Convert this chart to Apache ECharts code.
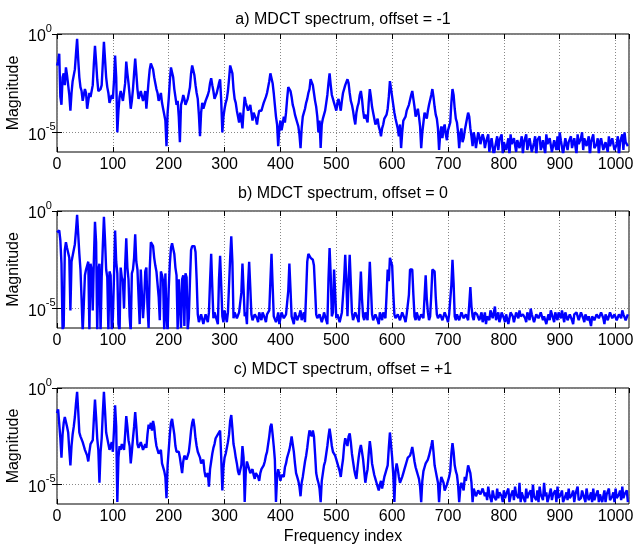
<!DOCTYPE html>
<html><head><meta charset="utf-8">
<script src="https://cdn.jsdelivr.net/npm/echarts@6/dist/echarts.min.js"></script>
<style>html,body{margin:0;padding:0;background:#fff}#c{width:634px;height:546px}</style>
</head><body><div id="c"></div>
<script>
// Values were read at every 2nd frequency bin: "even" arrays hold bins 0,4,8,...
// "odd" arrays hold bins 2,6,10,...  (values are log10 of the magnitude)
const STEP = 4;
const titles = ['a) MDCT spectrum, offset = -1', 'b) MDCT spectrum, offset = 0', 'c) MDCT spectrum, offset = +1'];
const yTickValues = [1e-5, 1];
const xName = 'Frequency index';
const yName = 'Magnitude';

const logMagOffsetMinus1Even = [
-1.6,-1.0,-3.6,-2.0,-1.7,-2.2,-3.9,-2.4,-1.8,-0.25,-2.2,-2.9,-3.1,-3.0,-3.7,-3.2,
-2.6,-0.6,-2.3,-3.0,-2.6,-0.4,-2.2,-3.0,-3.4,-3.3,-1.1,-5.0,-3.2,-3.0,-3.3,-1.4,
-2.5,-3.8,-2.8,-1.25,-2.8,-3.1,-3.0,-3.2,-3.8,-2.4,-1.5,-1.8,-2.5,-3.0,-3.2,-3.5,
-3.9,-5.7,-3.3,-1.7,-2.2,-3.2,-3.4,-5.5,-3.4,-3.3,-3.5,-3.2,-2.0,-1.5,-2.6,-3.3,
-5.2,-3.5,-3.6,-3.3,-2.9,-2.25,-2.9,-3.2,-2.9,-2.3,-5.0,-3.8,-3.3,-2.3,-1.5,-2.8,
-3.5,-4.2,-4.0,-4.8,-3.2,-3.6,-3.8,-4.0,-4.0,-4.3,-4.2,-4.0,-3.7,-3.4,-3.0,-2.4,
-2.0,-3.0,-4.2,-5.7,-4.4,-4.6,-4.5,-3.3,-2.7,-3.2,-3.8,-4.3,-4.7,-5.8,-4.2,-3.8,
-3.3,-2.8,-2.3,-3.0,-3.7,-5.0,-5.8,-4.3,-3.9,-3.1,-2.0,-3.1,-3.5,-3.9,-3.3,-3.9,
-3.0,-2.6,-2.3,-3.0,-3.6,-4.3,-4.0,-3.5,-2.9,-3.9,-4.1,-4.5,-2.8,-3.7,-4.3,-4.5,
-4.7,-5.2,-4.6,-4.4,-3.8,-2.4,-3.2,-4.0,-4.4,-5.2,-5.8,-4.4,-4.2,-3.9,-3.5,-2.9,
-3.7,-4.0,-4.2,-5.8,-4.5,-4.1,-3.9,-3.5,-2.8,-3.7,-4.3,-5.9,-4.7,-4.8,-5.1,-4.9,
-4.5,-2.8,-3.8,-4.5,-5.8,-4.8,-5.3,-4.6,-4.0,-4.8,-5.7,-5.3,-5.4,-5.2,-5.7,-5.3,
-5.5,-5.1,-5.6,-5.3,-5.8,-5.2,-5.4,-5.1,-5.5,-5.9,-5.3,-5.1,-5.6,-5.2,-5.4,-5.8,
-5.2,-5.5,-5.1,-5.6,-5.3,-6.1,-5.2,-5.4,-5.2,-5.7,-5.3,-5.1,-5.6,-5.4,-5.9,-5.3,
-5.2,-5.0,-5.4,-5.7,-5.3,-5.5,-5.2,-5.8,-5.4,-5.1,-5.6,-5.0,-5.3,-5.7,-5.2,-5.5,
-5.1,-5.9,-5.3,-5.5,-5.2,-5.7,-5.4,-5.2,-5.6,-5.3,-5.8,-5.2,-5.5,-5.1,-5.0,-5.6
];
const logMagOffsetMinus1Odd = [
-1.4,-3.2,-2.2,-2.6,-2.1,-3.1,-3.0,-2.3,-1.0,-1.3,-2.7,-3.4,-2.8,-3.8,-3.0,-3.1,
-1.5,-1.4,-2.9,-2.8,-1.5,-1.3,-2.7,-3.5,-3.1,-2.4,-2.2,-3.9,-2.9,-3.4,-2.5,-2.0,
-3.1,-3.4,-2.0,-2.0,-3.3,-2.9,-3.4,-2.9,-3.1,-1.8,-1.6,-2.2,-2.8,-3.4,-3.0,-3.8,
-4.4,-4.0,-2.4,-1.7,-2.8,-3.6,-4.2,-3.6,-3.1,-3.6,-3.3,-2.7,-1.6,-2.1,-3.0,-4.1,
-4.0,-3.8,-3.4,-3.1,-2.5,-2.6,-3.3,-3.0,-2.5,-3.4,-4.2,-3.5,-2.9,-1.6,-2.0,-3.3,
-3.9,-4.5,-4.3,-3.9,-3.5,-3.9,-3.6,-4.4,-4.1,-4.6,-3.9,-3.9,-3.5,-3.2,-2.7,-2.0,
-2.5,-3.6,-4.6,-4.8,-4.9,-4.2,-4.0,-2.7,-2.9,-3.6,-4.1,-4.5,-5.1,-4.8,-4.0,-3.5,
-3.0,-2.3,-2.6,-3.4,-4.2,-4.4,-4.6,-4.1,-3.5,-2.5,-2.6,-3.3,-3.7,-3.5,-3.6,-3.4,
-2.8,-2.7,-2.5,-3.4,-3.9,-4.6,-3.7,-3.1,-3.3,-4.3,-4.0,-3.5,-3.2,-4.0,-4.6,-4.3,
-4.9,-4.8,-4.3,-4.1,-3.2,-2.4,-3.6,-4.3,-4.8,-4.6,-5.0,-4.5,-3.9,-3.6,-3.1,-3.3,
-4.2,-3.8,-4.7,-5.0,-4.0,-4.3,-3.6,-3.1,-3.2,-4.1,-4.8,-5.1,-5.3,-4.6,-5.4,-4.7,
-3.5,-3.1,-4.3,-5.0,-5.1,-5.5,-4.9,-4.3,-4.2,-5.2,-5.0,-5.8,-5.0,-5.6,-5.1,-5.8,
-5.4,-6.0,-5.3,-6.2,-5.5,-5.9,-5.3,-6.1,-5.4,-5.8,-6.2,-5.6,-5.3,-6.0,-5.4,-5.9,
-6.1,-5.4,-5.9,-5.3,-6.0,-5.5,-6.2,-5.3,-5.9,-5.4,-6.1,-5.6,-5.3,-6.0,-5.4,-5.9,
-5.9,-5.4,-6.1,-5.3,-5.9,-5.4,-5.8,-5.3,-6.1,-5.6,-5.3,-5.9,-5.2,-5.7,-6.2,-5.4,
-5.8,-5.6,-6.1,-5.3,-5.9,-5.5,-6.0,-5.7,-5.3,-5.9,-5.6,-6.2,-5.4,-5.9,-5.5,-5.7
];
const logMagOffset0Even = [
-1.1,-1.0,-2.7,-5.9,-1.6,-1.9,-5.1,-2.3,-1.7,-0.2,-2.2,-4.5,-6.2,-3.0,-2.6,-2.7,
-5.1,-0.55,-6.2,-2.7,-3.4,-0.3,-3.0,-6.2,-3.3,-5.5,-1.0,-3.2,-6.2,-3.4,-5.0,-1.4,
-3.5,-6.2,-3.0,-1.2,-3.0,-5.8,-2.9,-4.6,-2.9,-6.0,-1.6,-1.8,-2.8,-3.2,-5.6,-3.3,
-6.2,-5.3,-4.0,-1.9,-1.7,-2.9,-6.1,-3.4,-3.5,-5.9,-3.4,-5.5,-2.0,-1.75,-2.1,-5.3,
-5.6,-5.2,-5.7,-5.4,-5.2,-2.2,-5.5,-5.3,-5.8,-2.3,-5.4,-5.1,-5.7,-5.3,-1.3,-5.5,
-5.2,-5.6,-5.3,-2.7,-5.4,-5.8,-2.6,-5.3,-5.5,-5.2,-5.7,-5.4,-5.2,-5.5,-5.3,-5.1,
-2.2,-5.4,-5.7,-5.2,-5.5,-5.3,-5.6,-5.2,-2.7,-5.4,-5.8,-5.3,-5.5,-5.1,-5.4,-5.7,
-2.6,-2.1,-2.5,-2.8,-5.3,-5.6,-5.2,-5.5,-5.3,-5.8,-1.9,-5.4,-3.0,-5.5,-5.2,-5.6,
-5.3,-2.25,-5.4,-2.25,-5.2,-5.5,-5.3,-5.7,-3.1,-5.4,-5.2,-5.6,-2.6,-5.3,-5.5,-5.2,
-5.8,-5.4,-5.2,-5.5,-3.0,-2.4,-2.8,-5.3,-5.6,-5.2,-5.5,-5.3,-5.7,-5.2,-3.0,-3.0,
-5.4,-5.2,-5.6,-5.3,-5.5,-3.3,-5.2,-5.4,-3.0,-3.1,-5.3,-5.6,-5.2,-5.5,-5.3,-5.7,
-5.2,-2.5,-5.4,-5.3,-5.6,-5.2,-5.5,-5.3,-5.6,-3.9,-5.4,-5.2,-5.3,-5.6,-5.2,-5.5,
-5.8,-5.3,-5.1,-5.5,-4.9,-5.4,-5.7,-5.2,-5.5,-5.3,-5.8,-5.2,-5.4,-5.6,-5.3,-5.1,
-5.5,-5.2,-5.7,-5.3,-5.0,-5.4,-5.6,-5.2,-5.5,-5.1,-5.4,-5.8,-5.3,-5.1,-5.5,-5.2,
-5.6,-5.3,-5.1,-5.7,-5.3,-5.5,-5.2,-5.8,-5.4,-5.2,-5.5,-5.3,-5.7,-5.2,-5.4,-5.9,
-5.3,-5.5,-5.2,-5.6,-5.3,-5.8,-5.2,-5.5,-5.3,-5.6,-5.2,-5.5,-5.3,-5.1,-5.4,-5.6
];
const logMagOffset0Odd = [
-1.2,-1.5,-6.1,-2.0,-1.9,-2.4,-2.6,-2.0,-1.0,-1.2,-3.0,-6.2,-3.3,-2.8,-6.1,-3.0,
-2.5,-1.6,-3.0,-6.2,-1.8,-1.5,-3.4,-3.1,-6.2,-3.4,-2.6,-5.8,-2.9,-3.6,-2.8,-2.9,
-5.4,-3.2,-2.4,-2.6,-3.1,-3.0,-5.5,-3.1,-4.9,-3.0,-1.7,-2.4,-3.1,-4.4,-3.1,-3.6,
-3.2,-6.2,-2.7,-1.65,-2.2,-3.3,-3.5,-6.0,-3.3,-3.2,-6.1,-3.6,-1.8,-1.8,-3.5,-5.7,
-5.3,-5.8,-5.3,-5.7,-3.6,-3.9,-5.2,-5.6,-3.5,-3.8,-5.7,-5.4,-5.2,-2.4,-2.6,-5.2,
-5.5,-5.2,-4.2,-4.0,-5.2,-3.8,-3.9,-5.6,-5.3,-5.5,-5.2,-5.6,-5.3,-5.7,-5.2,-3.6,
-3.8,-5.3,-5.5,-5.8,-5.2,-5.5,-5.3,-4.1,-4.0,-5.6,-5.2,-5.6,-5.3,-5.6,-5.2,-4.2,
-2.2,-2.4,-2.5,-4.0,-5.5,-5.3,-5.7,-5.2,-5.6,-3.5,-3.3,-5.2,-4.2,-5.3,-5.7,-5.2,
-3.5,-3.6,-3.6,-3.7,-5.6,-5.2,-5.5,-4.4,-4.5,-5.6,-5.3,-4.0,-3.9,-5.6,-5.3,-5.6,
-5.2,-5.6,-5.3,-4.3,-3.6,-2.4,-4.2,-5.5,-5.3,-5.6,-5.2,-5.5,-5.3,-4.3,-3.0,-4.3,
-5.6,-5.3,-5.5,-5.2,-4.4,-4.5,-5.6,-4.3,-3.1,-4.4,-5.5,-5.3,-5.6,-5.2,-5.5,-5.3,
-3.8,-3.7,-5.6,-5.2,-5.5,-5.3,-5.6,-5.2,-4.8,-4.9,-5.6,-5.3,-5.2,-5.4,-5.7,-5.2,
-5.4,-5.6,-5.3,-5.2,-5.6,-5.2,-5.5,-5.3,-5.7,-5.2,-5.5,-5.3,-5.7,-5.2,-5.5,-5.4,
-5.3,-5.5,-5.2,-5.6,-5.3,-5.7,-5.3,-5.5,-5.2,-5.6,-5.3,-5.5,-5.6,-5.3,-5.7,-5.4,
-5.2,-5.5,-5.4,-5.2,-5.6,-5.3,-5.6,-5.3,-5.2,-5.6,-5.2,-5.5,-5.3,-5.6,-5.3,-5.4,
-5.6,-5.3,-5.5,-5.2,-5.5,-5.3,-5.6,-5.2,-5.5,-5.3,-5.6,-5.3,-5.5,-5.3,-5.6,-5.3
];
const logMagOffsetPlus1Even = [
-1.3,-1.0,-3.6,-1.8,-1.6,-2.3,-4.0,-2.4,-1.5,-0.2,-2.3,-2.6,-3.0,-3.2,-3.8,-2.9,
-2.7,-0.6,-2.6,-4.9,-2.6,-0.2,-2.3,-2.9,-3.1,-3.3,-0.9,-5.9,-3.0,-2.9,-3.2,-1.45,
-2.7,-3.9,-2.6,-1.25,-2.9,-3.2,-3.0,-3.3,-3.1,-1.9,-1.8,-1.7,-2.6,-3.2,-3.5,-3.9,
-4.3,-5.7,-3.2,-1.8,-1.6,-3.0,-3.4,-3.6,-4.4,-3.5,-3.7,-3.3,-2.2,-1.6,-2.6,-3.3,
-3.6,-4.0,-4.3,-4.6,-5.1,-3.8,-3.1,-2.6,-2.4,-2.2,-5.3,-3.6,-3.3,-2.4,-1.4,-2.9,
-3.6,-4.3,-4.6,-3.0,-5.9,-3.8,-4.1,-4.3,-4.5,-4.4,-4.6,-4.4,-4.1,-3.8,-3.3,-2.5,
-1.85,-3.0,-5.9,-4.2,-4.8,-4.4,-4.1,-3.6,-3.2,-2.5,-3.3,-4.4,-4.8,-5.6,-4.6,-3.8,
-3.1,-2.2,-2.5,-2.5,-4.4,-4.9,-5.9,-4.4,-3.8,-3.0,-2.1,-3.0,-3.3,-3.6,-4.0,-4.6,
-3.7,-2.6,-3.0,-2.35,-3.4,-4.2,-4.7,-3.6,-2.95,-3.7,-4.9,-4.2,-2.75,-3.9,-4.5,-4.9,
-5.3,-4.8,-4.9,-4.4,-4.0,-2.3,-3.6,-5.9,-3.9,-4.6,-4.8,-4.4,-4.0,-3.6,-3.5,-3.05,
-3.8,-4.3,-4.7,-5.9,-4.3,-3.9,-3.7,-3.4,-2.7,-4.0,-4.6,-5.9,-4.6,-4.9,-5.2,-4.8,
-4.3,-2.85,-4.0,-4.5,-5.9,-4.9,-5.3,-4.8,-4.0,-4.4,-5.9,-5.4,-5.5,-5.2,-5.6,-5.3,
-5.4,-5.1,-5.5,-5.3,-5.7,-5.2,-5.4,-5.6,-5.3,-5.5,-5.2,-5.6,-5.3,-5.1,-5.5,-4.9,
-5.4,-5.7,-5.2,-5.5,-5.3,-5.0,-5.6,-5.3,-5.1,-5.5,-4.9,-5.4,-5.7,-5.2,-5.5,-5.3,
-5.1,-5.6,-5.3,-5.9,-5.4,-5.2,-5.6,-5.3,-5.5,-5.1,-5.7,-5.3,-5.5,-5.2,-5.8,-5.4,
-5.2,-5.6,-5.3,-5.5,-5.9,-5.3,-5.5,-5.2,-5.7,-5.4,-5.2,-5.6,-5.3,-5.1,-5.5,-5.3
];
const logMagOffsetPlus1Odd = [
-1.1,-2.6,-2.4,-1.5,-2.0,-3.2,-3.0,-2.0,-0.8,-1.2,-2.5,-2.8,-3.2,-3.5,-3.3,-2.8,
-1.6,-1.5,-3.2,-3.3,-1.3,-1.2,-2.6,-3.2,-2.8,-2.2,-2.0,-3.6,-3.2,-3.0,-2.4,-2.0,
-3.0,-3.3,-2.0,-2.0,-3.1,-2.8,-3.2,-2.9,-2.4,-2.1,-2.2,-2.0,-3.0,-3.4,-3.2,-3.8,
-4.6,-4.0,-2.4,-1.6,-2.4,-3.3,-3.3,-4.0,-3.8,-3.4,-3.5,-2.8,-1.8,-2.0,-3.0,-3.4,
-3.9,-3.7,-4.6,-4.4,-4.2,-3.4,-2.9,-2.7,-2.5,-3.6,-4.1,-3.4,-2.8,-1.7,-2.1,-3.2,
-3.9,-4.5,-4.0,-3.6,-4.3,-4.0,-4.4,-4.2,-4.7,-4.3,-4.8,-4.2,-4.0,-3.5,-2.9,-2.0,
-2.4,-3.7,-4.6,-4.5,-4.5,-4.6,-3.9,-3.4,-2.9,-2.9,-3.9,-4.6,-5.1,-4.9,-4.2,-3.5,
-2.6,-2.3,-2.2,-3.4,-4.7,-5.2,-4.8,-4.0,-3.4,-2.5,-2.5,-3.3,-3.5,-3.9,-4.3,-4.1,
-3.0,-2.7,-2.5,-2.8,-3.8,-4.5,-4.1,-3.2,-3.3,-4.3,-4.5,-3.4,-3.2,-4.2,-4.7,-5.1,
-5.0,-5.2,-4.6,-4.2,-3.1,-2.25,-4.5,-4.3,-4.2,-4.9,-4.6,-4.2,-3.8,-3.7,-3.3,-3.4,
-4.1,-4.5,-5.1,-4.8,-4.1,-3.8,-3.5,-3.0,-3.3,-4.3,-4.9,-5.0,-4.7,-5.3,-5.0,-4.6,
-3.4,-3.3,-4.3,-5.0,-5.2,-5.0,-4.6,-4.4,-3.95,-4.9,-5.2,-5.6,-5.3,-5.5,-5.2,-5.6,
-5.8,-5.5,-5.9,-5.6,-5.8,-5.7,-5.4,-5.9,-5.7,-5.5,-5.9,-5.6,-5.8,-5.5,-5.7,-5.9,
-5.6,-5.9,-5.7,-5.5,-5.9,-5.6,-5.8,-5.9,-5.5,-5.8,-5.6,-5.9,-5.7,-5.8,-5.5,-5.9,
-5.7,-5.5,-5.9,-5.6,-5.8,-5.7,-5.5,-5.9,-5.6,-5.8,-5.7,-5.5,-5.9,-5.6,-5.7,-5.9,
-5.8,-5.6,-5.9,-5.5,-5.8,-5.9,-5.5,-5.8,-5.6,-5.9,-5.7,-5.5,-5.8,-5.7,-5.6,-5.9
];

const panels = [
  [logMagOffsetMinus1Even, logMagOffsetMinus1Odd],
  [logMagOffset0Even, logMagOffset0Odd],
  [logMagOffsetPlus1Even, logMagOffsetPlus1Odd]
];
const FONT = '"Liberation Sans", Arial, Helvetica, sans-serif';
const gridTops = [34, 211, 388];
const gridHeights = [118, 117, 116];
const titleTops = [12, 186, 362];

function toPoints(even, odd) {
  const pts = [];
  for (let k = 0; k < even.length; k++) {
    pts.push([k * STEP, Math.pow(10, even[k])]);
    pts.push([k * STEP + STEP / 2, Math.pow(10, odd[k])]);
  }
  return pts;
}

const chart = echarts.init(document.getElementById('c'), null, {renderer: 'canvas'});
const option = {
  animation: false,
  backgroundColor: '#fff',
  textStyle: {fontFamily: FONT},
  title: titles.map((t, i) => ({
    text: t, left: 343, top: titleTops[i], textAlign: 'center', padding: 0,
    textStyle: {fontSize: 16, fontWeight: 'normal', color: '#000', fontFamily: FONT}
  })),
  grid: gridTops.map((t, i) => ({
    left: 57, top: t, width: 572, height: gridHeights[i],
    outerBoundsMode: 'none', containLabel: false,
    show: true, borderColor: '#000', borderWidth: 1, backgroundColor: 'transparent'
  })),
  xAxis: [],
  yAxis: [],
  series: []
};
panels.forEach((pair, i) => {
  option.xAxis.push({
    gridIndex: i, type: 'value', min: 0, max: 1024, interval: 100, position: 'bottom',
    name: i === 2 ? xName : '', nameLocation: 'middle', nameGap: 25,
    nameTextStyle: {fontSize: 16, color: '#000', fontFamily: FONT},
    axisLine: {show: false},
    axisTick: {show: true, inside: true, length: 5, lineStyle: {color: '#000'}},
    axisLabel: {margin: 5, fontSize: 16, color: '#000', fontFamily: FONT, showMaxLabel: false,
      formatter: v => String(v)},
    splitLine: {show: true, lineStyle: {color: '#888', width: 1, type: [1, 2]}}
  });
  option.xAxis.push({
    gridIndex: i, type: 'value', min: 0, max: 1024, interval: 100, position: 'top',
    axisLine: {show: false},
    axisTick: {show: true, inside: true, length: 5, lineStyle: {color: '#000'}},
    axisLabel: {show: false}, splitLine: {show: false}
  });
  option.yAxis.push({
    gridIndex: i, type: 'log', logBase: 10, min: 1e-6, max: 1, position: 'left',
    name: yName, nameLocation: 'middle', nameGap: 35, nameMoveOverlap: false,
    nameTextStyle: {fontSize: 16, color: '#000', fontFamily: FONT},
    axisLine: {show: false},
    axisTick: {show: true, inside: true, length: 5, lineStyle: {color: '#000'}, customValues: yTickValues},
    axisLabel: {
      customValues: yTickValues, align: 'left', margin: 29,
      formatter: v => '{b|10}{e|' + Math.round(Math.log10(v)) + '}',
      rich: {
        b: {fontSize: 16, color: '#000', fontFamily: FONT, lineHeight: 22, verticalAlign: 'bottom'},
        e: {fontSize: 11, color: '#000', fontFamily: FONT, lineHeight: 11, verticalAlign: 'top'}
      }
    },
    splitLine: {show: true, lineStyle: {color: '#888', width: 1, type: [1, 2]}}
  });
  option.yAxis.push({
    gridIndex: i, type: 'log', logBase: 10, min: 1e-6, max: 1, position: 'right',
    axisLine: {show: false},
    axisTick: {show: true, inside: true, length: 5, lineStyle: {color: '#000'}, customValues: yTickValues},
    axisLabel: {show: false}, splitLine: {show: false}
  });
  option.series.push({
    type: 'line', xAxisIndex: i * 2, yAxisIndex: i * 2,
    data: toPoints(pair[0], pair[1]),
    showSymbol: false, clip: true,
    lineStyle: {color: '#0000ff', width: 2.4}
  });
});
chart.setOption(option);
</script></body></html>
